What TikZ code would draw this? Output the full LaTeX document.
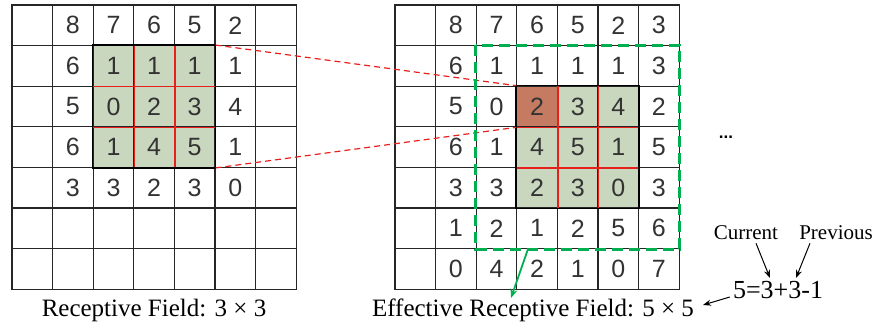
\documentclass[tikz,border=0pt]{standalone}
\usepackage{fontspec}
\setmainfont{Liberation Serif}
\newfontfamily\digitfont{Liberation Sans}
\usetikzlibrary{arrows.meta,calc}
\definecolor{cellgreen}{HTML}{C9D7BF}
\definecolor{cellbrown}{HTML}{C47B62}
\definecolor{linered}{HTML}{E8201C}
\definecolor{boxgreen}{HTML}{00B050}
\begin{document}
\begin{tikzpicture}[x=1pt,y=-1pt,
  cell/.style={draw=black!85, line width=1.1pt, minimum size=40.6pt, inner sep=0pt,
    font=\digitfont\fontsize{25}{25}\selectfont, text=black!80},
  redgrid/.style={draw=linered, line width=1.2pt},
  blockbox/.style={draw=black, line width=1.6pt},
  reddash/.style={draw=linered, line width=1.2pt, dash pattern=on 6pt off 4pt},
  greendash/.style={draw=boxgreen, line width=3pt, dash pattern=on 11pt off 6pt},
  greenarrow/.style={draw=boxgreen, line width=1.8pt, -{Stealth[length=9pt,width=7pt]}},
  blackarrow/.style={draw=black, line width=1pt, -{Stealth[length=8pt,width=6pt]}},
  caption/.style={font=\fontsize{25}{25}\selectfont, inner sep=0pt},
  small/.style={font=\fontsize{21}{21}\selectfont, inner sep=0pt}]
\useasboundingbox (0,0) rectangle (876,327);
\def\cs{40.6}
\def\lx{12}
\def\rx{395}
\def\gy{5}
% fills
\fill[cellgreen] ({\lx+2*\cs},{\gy+\cs}) rectangle ++({3*\cs},{3*\cs});
\fill[cellgreen] ({\rx+3*\cs},{\gy+2*\cs}) rectangle ++({3*\cs},{3*\cs});
\fill[cellbrown] ({\rx+3*\cs},{\gy+2*\cs}) rectangle ++({\cs},{\cs});
% left grid
\foreach \row [count=\r from 0] in {
  {{},8,7,6,5,2,{}},
  {{},6,1,1,1,1,{}},
  {{},5,0,2,3,4,{}},
  {{},6,1,4,5,1,{}},
  {{},3,3,2,3,0,{}},
  {{},{},{},{},{},{},{}},
  {{},{},{},{},{},{},{}}} {
  \foreach \v [count=\c from 0] in \row {
    \node[cell] (L-\r-\c) at ({\lx+\cs*(\c+0.5)},{\gy+\cs*(\r+0.5)}) {\v};
  }
}
% right grid
\foreach \row [count=\r from 0] in {
  {{},8,7,6,5,2,3},
  {{},6,1,1,1,1,3},
  {{},5,0,2,3,4,2},
  {{},6,1,4,5,1,5},
  {{},3,3,2,3,0,3},
  {{},1,2,1,2,5,6},
  {{},0,4,2,1,0,7}} {
  \foreach \v [count=\c from 0] in \row {
    \node[cell] (R-\r-\c) at ({\rx+\cs*(\c+0.5)},{\gy+\cs*(\r+0.5)}) {\v};
  }
}
% red inner lines, left
\draw[redgrid] (L-1-2.north east) -- (L-3-2.south east);
\draw[redgrid] (L-1-3.north east) -- (L-3-3.south east);
\draw[redgrid] (L-1-2.south west) -- (L-1-4.south east);
\draw[redgrid] (L-2-2.south west) -- (L-2-4.south east);
\draw[blockbox] (L-1-2.north west) rectangle (L-3-4.south east);
% red inner lines, right
\draw[redgrid] (R-2-3.north east) -- (R-4-3.south east);
\draw[redgrid] (R-2-4.north east) -- (R-4-4.south east);
\draw[redgrid] (R-2-3.south west) -- (R-2-5.south east);
\draw[redgrid] (R-3-3.south west) -- (R-3-5.south east);
\draw[blockbox] (R-2-3.north west) rectangle (R-4-5.south east);
% connectors
\draw[reddash] (L-1-4.north east) -- (R-2-3.north west);
\draw[reddash] (L-3-4.south east) -- (R-2-3.south west);
% effective field box
\draw[greendash] (R-1-2.north west) rectangle (R-5-6.south east);
% captions
\node[caption] (cap1) at (154,310) {Receptive Field: 3 × 3};
\node[caption] (cap2) at (533,310) {Effective Receptive Field: 5 × 5};
\coordinate (gstart) at ($(R-5-3.south west)!0.28!(R-5-3.south east)$);
\coordinate (gend) at (511,298);
\draw[greenarrow] (gstart) -- (gend);
% dots
\node[font=\digitfont\bfseries\fontsize{17}{17}\selectfont, inner sep=0pt] (dots) at (726,137) {...};
% formula
\node[small] (cur) at (746,233) {Current};
\node[small] (prev) at (836,233) {Previous};
\node[font=\fontsize{26}{26}\selectfont, inner sep=0pt] (form) at (778,290) {5=3+3-1};
\coordinate (curend) at (770,278);
\coordinate (prevend) at (796,278);
\coordinate (capend) at (703,305);
\draw[blackarrow] (cur.south) ++(10,3) -- (curend);
\draw[blackarrow] (prev.south) ++(-26,3) -- (prevend);
\draw[blackarrow] (form.west) ++(-3,7) -- (capend);
\end{tikzpicture}
\end{document}
